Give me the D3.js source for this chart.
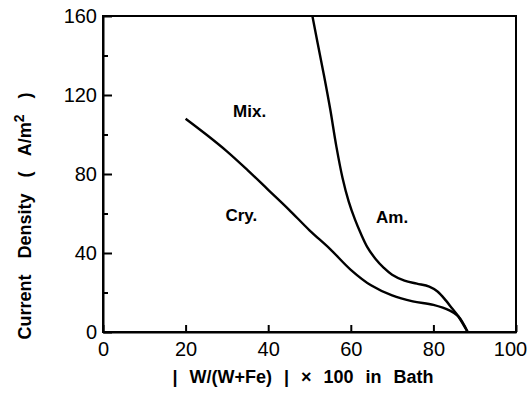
<!DOCTYPE html>
<html>
<head>
<meta charset="utf-8">
<script src="https://cdn.jsdelivr.net/npm/d3@7"></script>
<style>
  body { margin: 0; background: #fff; }
  svg text { font-family: "Liberation Sans", Arial, sans-serif; fill: #000; }
</style>
</head>
<body>
<svg width="530" height="398"></svg>
<script>
// W fraction in bath (%) vs current density (A/m2), boundary lines
const cryX = [20, 25, 30, 35, 40, 45, 50, 55, 60, 65, 70, 75, 80, 84, 86, 88.3];
const cryY = [108, 100, 91.5, 82, 72, 62, 51.5, 42, 31.5, 23.5, 18.5, 15.5, 13.7, 10.8, 8, 0];
const amX = [50.7, 52, 53.5, 55, 56.5, 58, 59.5, 61, 62.5, 64, 66, 68, 70, 73, 76, 79, 81, 83, 84.5, 86, 88.3];
const amY = [160, 146, 130, 113, 94, 78, 66, 57, 49.5, 43, 37, 32.5, 29, 26, 24.5, 23, 20.5, 16, 12, 8, 0];
const xTicks = [0, 20, 40, 60, 80, 100];
const yTicks = [0, 40, 80, 120, 160];
const yMinor = [20, 60, 100, 140];
const regionLabels = [
  { text: "Mix.", x: 35.5, y: 109 },
  { text: "Cry.", x: 33.5, y: 56 },
  { text: "Am.", x: 70, y: 55 }
];

const svg = d3.select("svg");
const x = d3.scaleLinear().domain([0, 100]).range([103, 516]);
const y = d3.scaleLinear().domain([0, 160]).range([332, 16]);

// frame
svg.append("rect")
   .attr("x", x(0)).attr("y", y(160))
   .attr("width", x(100) - x(0)).attr("height", y(0) - y(160))
   .attr("fill", "none").attr("stroke", "#000").attr("stroke-width", 2);

svg.append("g")
   .attr("transform", `translate(${x(0)},0)`)
   .call(d3.axisLeft(y).tickValues(yTicks).tickFormat(d3.format("d"))
         .tickSize(-9).tickSizeOuter(0).tickPadding(6));
svg.append("g")
   .attr("transform", `translate(${x(0)},0)`)
   .call(d3.axisLeft(y).tickValues(yMinor).tickFormat("").tickSize(-5).tickSizeOuter(0))
   .select(".domain").remove();

svg.append("g")
   .attr("transform", `translate(0,${y(0)})`)
   .call(d3.axisBottom(x).tickValues(xTicks).tickFormat(d3.format("d"))
         .tickSize(-7).tickSizeOuter(0).tickPadding(10))
   .selectAll(".tick text")
   .attr("dx", d => d === 100 ? -6 : 0);

svg.selectAll(".domain").attr("stroke-width", 2);
svg.selectAll(".tick line").attr("stroke-width", 2);
svg.selectAll(".tick text")
   .attr("font-size", 20).attr("font-family", "Liberation Sans, Arial, sans-serif");

const line = d3.line().x(d => x(d[0])).y(d => y(d[1])).curve(d3.curveCatmullRom);
[[cryX, cryY], [amX, amY]].forEach(([xs, ys]) => {
  svg.append("path")
     .datum(xs.map((v, i) => [v, ys[i]]))
     .attr("d", line)
     .attr("fill", "none")
     .attr("stroke", "#000")
     .attr("stroke-width", 2.4);
});

svg.selectAll(".region")
   .data(regionLabels)
   .enter()
   .append("text")
   .attr("class", "region")
   .attr("x", d => x(d.x))
   .attr("y", d => y(d.y))
   .attr("text-anchor", "middle")
   .attr("font-size", 17)
   .attr("font-weight", "bold")
   .text(d => d.text);

// axis titles
svg.append("text")
   .attr("x", 303).attr("y", 383)
   .attr("text-anchor", "middle")
   .attr("font-size", 18)
   .attr("font-weight", "bold")
   .style("word-spacing", "7px")
   .text("| W/(W+Fe) | × 100  in  Bath");

const yt = svg.append("text")
   .attr("transform", "translate(31,216) rotate(-90)")
   .attr("text-anchor", "middle")
   .attr("font-size", 18)
   .attr("font-weight", "bold")
   .style("word-spacing", "11px");
yt.append("tspan").text("Current  Density  ( A/m");
yt.append("tspan").attr("dy", -7).attr("font-size", 14).text("2");
yt.append("tspan").attr("dy", 7).text(" )");
</script>
</body>
</html>
